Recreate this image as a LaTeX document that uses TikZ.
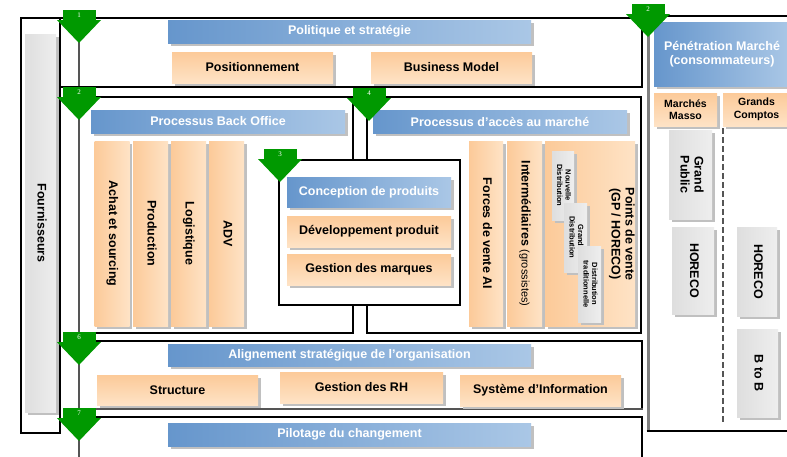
\documentclass[tikz,border=0pt]{standalone}
\usepackage{fontspec}
\setmainfont{Liberation Sans}
\newfontfamily\numfont{Liberation Serif}
\usepackage{graphicx}
\usetikzlibrary{shadows}
\definecolor{blueA}{RGB}{102,150,204}
\definecolor{blueB}{RGB}{170,199,230}
\definecolor{orA}{RGB}{252,202,153}
\definecolor{orB}{RGB}{254,227,198}
\definecolor{grA}{RGB}{222,222,222}
\definecolor{grB}{RGB}{238,238,238}
\definecolor{shadowgray}{RGB}{192,192,192}
\definecolor{arrowgreen}{RGB}{0,153,0}
\definecolor{lineGray}{RGB}{85,85,85}
\newcommand\rotlab[1]{\rotatebox{-90}{\begin{tabular}{@{}c@{}}#1\end{tabular}}}
\tikzset{
 every node/.style={inner sep=0pt, outer sep=0pt},
 frameline/.style={draw=black, line width=1.6pt},
 timeline/.style={draw=lineGray, line width=1.3pt},
 sh/.style={general shadow={fill=shadowgray, shadow xshift=2.5pt, shadow yshift=-2.5pt}},
 bigtxt/.style={font=\bfseries\fontsize{12.5}{14}\selectfont},
 wh/.style 2 args={minimum width=#1pt, minimum height=#2pt},
 hdr/.style={sh, left color=blueA, right color=blueB, text=white, bigtxt},
 obox/.style={sh, top color=orA, bottom color=orB, bigtxt},
 ocol/.style={sh, left color=orA, right color=orB, bigtxt},
 gbox/.style={sh, left color=grA, right color=grB, bigtxt},
 sgbox/.style={sh, left color=grA, right color=grB, font=\bfseries\fontsize{7.5}{8.5}\selectfont},
 garrow/.pic={
   \fill[arrowgreen] (-16.5,0) rectangle (16.5,11);
   \fill[arrowgreen] (-22,10) -- (22,10) -- (0,33) -- cycle;
   \node[text=white, font=\numfont\fontsize{7}{7}\selectfont] (num) at (0,5.5) {#1};
 },
}
\begin{document}
\begin{tikzpicture}[x=1pt,y=-1pt]
\useasboundingbox (0,0) rectangle (787,456);
\clip (0,0) rectangle (787,456);
\fill[white] (0,0) rectangle (787,456);
% timeline
\draw[timeline] (79,20) -- (79,460);
% frames
\draw[frameline] (21,18) rectangle (60,433);
\draw[frameline] (60,18) rectangle (642,87);
\draw[frameline] (79,97) -- (353,97) -- (353,333) -- (79,333);
\draw[frameline] (367,97) rectangle (641,333);
\draw[frameline] (79,341) -- (642,341) -- (642,409);
\draw[draw=lineGray, line width=2.2pt] (79,409) -- (643,409);
\draw[frameline] (79,417) -- (642,417) -- (642,460);
\draw[frameline] (795,16) -- (648,16);
\draw[draw=gray, line width=3pt] (648,16) -- (648,431);
\draw[frameline] (646.5,431) -- (795,431);
\draw[draw=lineGray, line width=1.3pt, dash pattern=on 6pt off 3pt] (723,128) -- (723,423);

% Fournisseurs
\node[gbox, wh={31}{378}] (fourn) at (40.5,223) {\rotlab{Fournisseurs}};

% Box 1
\node[hdr, wh={363}{23}] (pol) at (349.5,31.5) {Politique et stratégie};
\node[obox, wh={161}{31}] (posi) at (252.5,67.5) {Positionnement};
\node[obox, wh={161}{31}] (bm) at (451.5,67.5) {Business Model};

% Back office
\node[hdr, wh={254}{23}] (bo) at (218,121.5) {Processus Back Office};
\node[ocol, wh={35}{185}] (achat) at (112,233.5) {\rotlab{Achat et sourcing}};
\node[ocol, wh={35}{185}] (prod) at (150.5,233.5) {\rotlab{Production}};
\node[ocol, wh={35}{185}] (logi) at (188.5,233.5) {\rotlab{Logistique}};
\node[ocol, wh={35}{185}] (adv) at (226.5,233.5) {\rotlab{ADV}};

% Conception
\node[draw=black, line width=1.6pt, fill=white, wh={181}{145}] (concbox) at (369.5,232.5) {};
\node[hdr, wh={164}{30}] (conc) at (369,192) {Conception de produits};
\node[obox, wh={164}{31}] (dev) at (369,231.5) {Développement produit};
\node[obox, wh={164}{31}] (gm) at (369,269.5) {Gestion des marques};

% Market access
\node[hdr, wh={254}{23}] (mkt) at (500,121.5) {Processus d’accès au marché};
\node[ocol, wh={34}{185}] (fv) at (486,233.5) {\rotlab{Forces de vente AI}};
\node[ocol, wh={35}{185}] (inter) at (524.5,233.5) {\rotlab{Intermédiaires {\mdseries\fontsize{11}{13}\selectfont(grossistes)}}};
\node[ocol, wh={90}{185}] (pdv) at (590,233.5) {};
\node[sgbox, wh={22}{69}] (nd) at (563,185.5) {\rotlab{Nouvelle\\Distribution}};
\node[sgbox, wh={23}{69}] (gd) at (575.5,237.5) {\rotlab{Grands\\Distribution}};
\node[sgbox, wh={23}{76}] (dt) at (589.5,284) {\rotlab{Distribution\\traditionnelle}};
\node[bigtxt] (pdvtxt) at (621.5,234) {\rotlab{Points de vente\\(GP / HORECO)}};

% Box 6
\node[hdr, wh={363}{22}] (align) at (349.5,355) {Alignement stratégique de l’organisation};
\node[obox, wh={161}{30}] (struct) at (177.5,390) {Structure};
\node[obox, wh={163}{31}] (grh) at (361.5,387.5) {Gestion des RH};
\node[obox, wh={161}{31}] (si) at (540.5,390.5) {Système d’Information};

% Box 7
\node[hdr, wh={363}{23}] (pil) at (349.5,434.5) {Pilotage du changement};

% Right panel
\node[hdr, wh={136}{64}, align=center] (pen) at (722,54) {Pénétration Marché\\(consommateurs)};
\node[obox, wh={63}{33}, align=center, font=\bfseries\fontsize{10.5}{12.5}\selectfont] (mm) at (685.5,109.5) {Marchés\\Masso};
\node[obox, wh={67}{33}, align=center, font=\bfseries\fontsize{10.5}{12.5}\selectfont] (gc) at (756.5,109.5) {Grands\\Comptos};
\node[gbox, wh={43}{89}] (gp) at (690.5,174.5) {\rotlab{Grand\\Public}};
\node[gbox, wh={42}{87}] (horl) at (693,270.5) {\rotlab{HORECO}};
\node[gbox, wh={40}{89}] (horr) at (757,271.5) {\rotlab{HORECO}};
\node[gbox, wh={41}{88}] (btob) at (757.5,373) {\rotlab{B to B}};

% arrows
\pic (ar1) at (79,10) {garrow=1};
\pic (ar2) at (79,87) {garrow=2};
\pic (ar4) at (369,88) {garrow=4};
\pic (ar3) at (280,149) {garrow=3};
\pic (ar6) at (79,332) {garrow=6};
\pic (ar7) at (79,408) {garrow=7};
\pic (ar2b) at (648,4) {garrow=2};
\end{tikzpicture}
\end{document}
